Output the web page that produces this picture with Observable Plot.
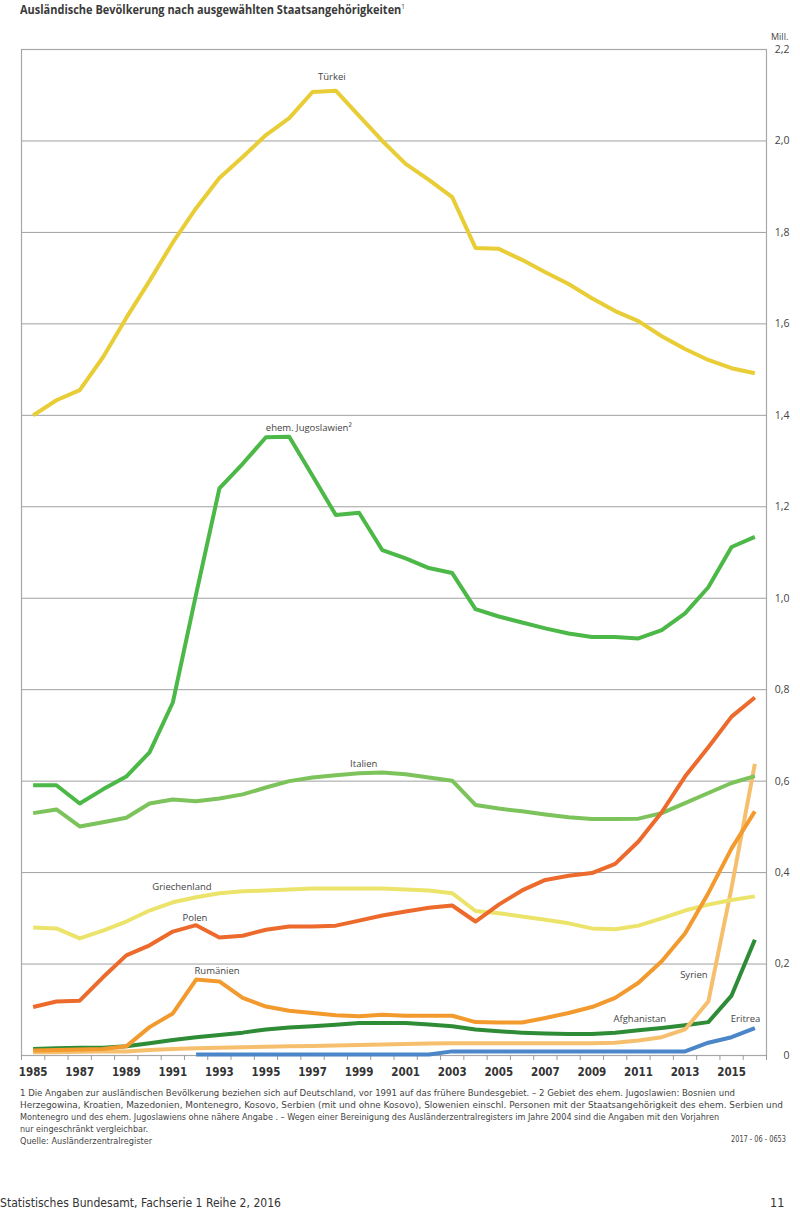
<!DOCTYPE html>
<html><head><meta charset="utf-8">
<script src="https://cdn.jsdelivr.net/npm/d3@7"></script>
<script src="https://cdn.jsdelivr.net/npm/@observablehq/plot@0.6"></script>
<style>
html,body{margin:0;padding:0;background:#fff}
body{width:800px;height:1211px;position:relative;overflow:hidden;font-family:"Open Sans","Noto Sans",sans-serif;color:#333}
.abs{position:absolute;white-space:nowrap;transform-origin:0 0;line-height:1}
.cond{font-family:"Liberation Sans Narrow","DejaVu Sans Condensed","DejaVu Sans",sans-serif;font-stretch:condensed}
#chart{position:absolute;left:0;top:0}
</style></head><body>
<div id="chart"></div>
<div class="abs" id="title" data-w="385" style="left:20px;top:3px;font-size:12px;font-weight:bold;color:#3a3a3a">Ausländische Bevölkerung nach ausgewählten Staatsangehörigkeiten<sup style="font-size:7px;font-weight:normal">1</sup></div>
<div class="abs" style="left:771px;top:32px;font-size:9px;color:#444">Mill.</div>
<div class="abs cond" data-w="715" style="left:20px;top:1088px;font-size:9.5px;color:#444">1 Die Angaben zur ausländischen Bevölkerung beziehen sich auf Deutschland, vor 1991 auf das frühere Bundesgebiet. – 2 Gebiet des ehem. Jugoslawien: Bosnien und</div>
<div class="abs cond" data-w="763" style="left:20px;top:1100px;font-size:9.5px;color:#444">Herzegowina, Kroatien, Mazedonien, Montenegro, Kosovo, Serbien (mit und ohne Kosovo), Slowenien einschl. Personen mit der Staatsangehörigkeit des ehem. Serbien und</div>
<div class="abs cond" data-w="699" style="left:20px;top:1112px;font-size:9.5px;color:#444">Montenegro und des ehem. Jugoslawiens ohne nähere Angabe . –  Wegen einer Bereinigung des Ausländerzentralregisters im Jahre 2004 sind die Angaben mit den Vorjahren</div>
<div class="abs cond" data-w="128" style="left:20px;top:1124px;font-size:9.5px;color:#444">nur eingeschränkt vergleichbar.</div>
<div class="abs cond" data-w="132" style="left:20px;top:1136px;font-size:9.5px;color:#444">Quelle: Ausländerzentralregister</div>
<div class="abs cond" data-w="55" style="left:731px;top:1136px;font-size:8px;color:#444">2017 - 06 - 0653</div>
<div class="abs cond" data-w="281" style="left:0px;top:1197px;font-size:12.5px;color:#333">Statistisches Bundesamt, Fachserie 1 Reihe 2, 2016</div>
<div class="abs cond" style="left:770px;top:1197px;font-size:12.5px;color:#333">11</div>
<script>
// ---- data (millions) ----
const years = [1985,1986,1987,1988,1989,1990,1991,1992,1993,1994,1995,1996,1997,1998,1999,2000,2001,2002,2003,2004,2005,2006,2007,2008,2009,2010,2011,2012,2013,2014,2015,2016];
const tuerkei = [1.400,1.433,1.455,1.527,1.613,1.694,1.778,1.853,1.919,1.965,2.013,2.050,2.107,2.110,2.055,2.000,1.950,1.915,1.877,1.766,1.764,1.740,1.713,1.687,1.656,1.628,1.606,1.573,1.545,1.521,1.503,1.492];
const jugoslawien = [0.591,0.591,0.551,0.582,0.610,0.663,0.772,1.009,1.240,1.294,1.352,1.353,1.268,1.182,1.187,1.105,1.087,1.066,1.055,0.976,0.960,0.947,0.934,0.923,0.915,0.915,0.912,0.930,0.967,1.024,1.112,1.134];
const italien = [0.530,0.538,0.501,0.510,0.520,0.551,0.560,0.556,0.562,0.571,0.586,0.600,0.608,0.613,0.617,0.619,0.615,0.608,0.601,0.548,0.540,0.534,0.527,0.521,0.517,0.517,0.518,0.530,0.552,0.574,0.596,0.611];
const griechenland = [0.280,0.278,0.256,0.273,0.293,0.317,0.335,0.346,0.355,0.359,0.361,0.363,0.365,0.365,0.365,0.365,0.363,0.361,0.355,0.316,0.311,0.304,0.297,0.289,0.278,0.276,0.284,0.300,0.317,0.330,0.340,0.348];
const polen = [0.106,0.118,0.120,0.171,0.219,0.241,0.271,0.285,0.258,0.262,0.275,0.282,0.282,0.284,0.295,0.306,0.315,0.323,0.328,0.293,0.330,0.361,0.384,0.393,0.399,0.419,0.468,0.532,0.610,0.674,0.741,0.783];
const rumaenien = [0.011,0.012,0.013,0.014,0.020,0.062,0.092,0.166,0.162,0.126,0.107,0.098,0.093,0.088,0.086,0.089,0.087,0.087,0.087,0.073,0.072,0.072,0.082,0.093,0.106,0.126,0.159,0.206,0.267,0.355,0.453,0.534];
const syrien = [0.007,0.007,0.008,0.009,0.009,0.012,0.014,0.016,0.017,0.018,0.019,0.020,0.021,0.022,0.023,0.024,0.025,0.026,0.027,0.027,0.027,0.027,0.027,0.027,0.027,0.028,0.033,0.040,0.057,0.118,0.367,0.638];
const afghanistan = [0.014,0.016,0.017,0.017,0.020,0.027,0.034,0.040,0.045,0.050,0.057,0.061,0.064,0.067,0.071,0.071,0.071,0.068,0.064,0.057,0.053,0.050,0.048,0.047,0.047,0.050,0.055,0.060,0.066,0.073,0.131,0.253];
const eritrea = [null,null,null,null,null,null,null,0.002,0.002,0.002,0.002,0.002,0.002,0.002,0.002,0.002,0.002,0.002,0.009,0.009,0.009,0.009,0.009,0.009,0.009,0.009,0.009,0.009,0.009,0.028,0.040,0.060];

const seriesNames = ["Eritrea","Afghanistan","Syrien","Griechenland","Italien","ehem. Jugoslawien","Türkei","Rumänien","Polen"];
const seriesValues = [eritrea, afghanistan, syrien, griechenland, italien, jugoslawien, tuerkei, rumaenien, polen];
const seriesColors = ["#4a86c8","#2e8b36","#f6bf6e","#ece36b","#7dc35b","#4cb848","#e8cd36","#f39a2e","#ec6a2c"];

const labelTexts = ["Türkei","ehem. Jugoslawien²","Italien","Griechenland","Polen","Rumänien","Syrien","Afghanistan","Eritrea"];
const labelYears = [1997.83,1996.84,1999.2,1991.39,1991.95,1992.9,2013.38,2011.06,2015.6];
const labelValues = [2.14,1.372,0.637,0.368,0.300,0.184,0.177,0.081,0.081];

const yTicks = [0,0.2,0.4,0.6,0.8,1.0,1.2,1.4,1.6,1.8,2.0,2.2];
const xLabelYears = [1985,1987,1989,1991,1993,1995,1997,1999,2001,2003,2005,2007,2009,2011,2013,2015];

// ---- build table ----
const data = [];
seriesNames.forEach((name, s) => {
  seriesValues[s].forEach((v, i) => { if (v != null) data.push({name, year: years[i], value: v}); });
});
const labels = labelTexts.map((t, i) => ({t, year: labelYears[i], value: labelValues[i]}));
const bounds = years.map(y => y - 0.5).concat([years[years.length - 1] + 0.5]);

const cond = '"Liberation Sans Narrow","DejaVu Sans Condensed","DejaVu Sans",sans-serif';
const sans = '"Open Sans","Noto Sans",sans-serif';

const chart = Plot.plot({
  width: 800, height: 1080,
  marginTop: 49, marginBottom: 25, marginLeft: 21, marginRight: 34,
  x: {domain: [years[0] - 0.5, years[years.length - 1] + 0.5], label: null},
  y: {domain: [0, 2.2], label: null},
  color: {domain: seriesNames, range: seriesColors},
  style: {fontFamily: sans, background: "transparent", overflow: "visible"},
  marks: [
    Plot.gridY(yTicks.slice(1, -1), {stroke: "#a0a0a0", strokeOpacity: 1, strokeWidth: 1}),
    Plot.frame({stroke: "#a8a8a8", strokeWidth: 1.2}),
    Plot.axisX(bounds, {tickSize: 5, tickFormat: () => "", stroke: "#9a9a9a", strokeWidth: 1, label: null}),
    Plot.axisX(xLabelYears, {tickSize: 0, tickPadding: 12, tickFormat: d => String(d), fontFamily: cond, fontWeight: "bold", fontSize: 11.5, fill: "#333", label: null}),
    Plot.axisY(yTicks, {anchor: "right", tickSize: 0, tickPadding: 23, textAnchor: "end", fontSize: 10.5, fill: "#444", tickFormat: d => d === 0 ? "0" : d.toFixed(1).replace(".", ","), label: null}),
    Plot.line(data, {x: "year", y: "value", z: "name", stroke: "name", strokeWidth: 4, strokeLinejoin: "round", strokeLinecap: "butt"}),
    Plot.text(labels, {x: "year", y: "value", text: "t", fontFamily: sans, fontSize: 9.5, fill: "#444"})
  ]
});
document.getElementById("chart").appendChild(chart);

// fit HTML text widths
function fit() {
  document.querySelectorAll("[data-w]").forEach(el => {
    el.style.transform = "none";
    const w = el.getBoundingClientRect().width;
    const target = +el.dataset.w;
    if (w > 0) el.style.transform = `scaleX(${target / w})`;
  });
}
fit();
if (document.fonts && document.fonts.ready) document.fonts.ready.then(fit);
</script>
</body></html>
